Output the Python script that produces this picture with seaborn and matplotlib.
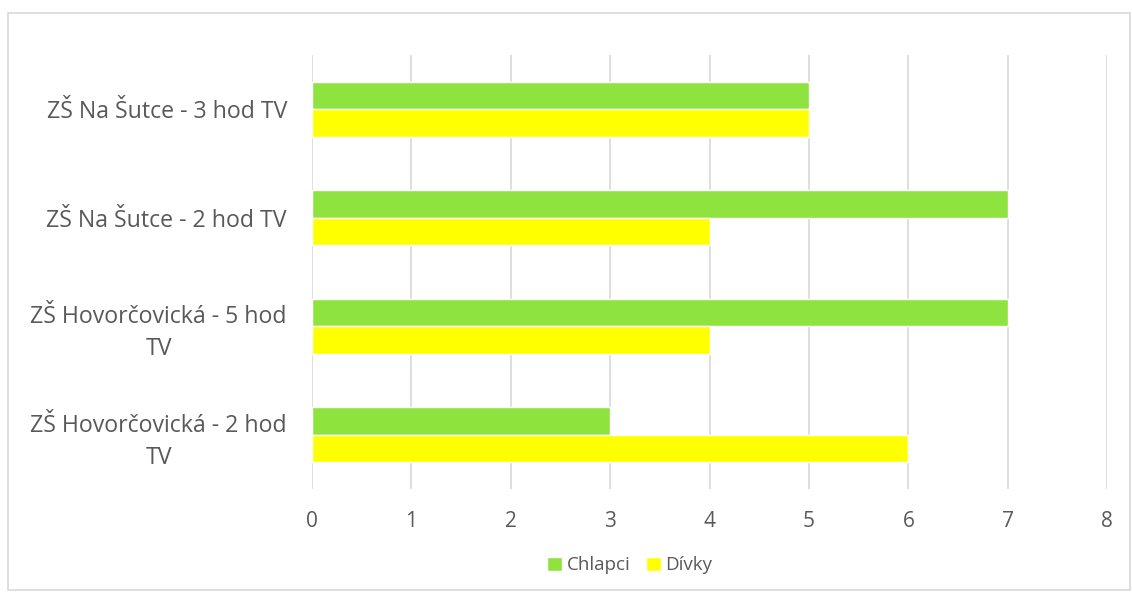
import pandas as pd
import matplotlib.pyplot as plt
import seaborn as sns
from matplotlib.patches import Rectangle

# data
categories = ["ZŠ Na Šutce - 3 hod TV", "ZŠ Na Šutce - 2 hod TV",
              "ZŠ Hovorčovická - 5 hod\nTV", "ZŠ Hovorčovická - 2 hod\nTV"]
chlapci = [5, 7, 7, 3]
divky = [5, 4, 4, 6]
series = ["Chlapci", "Dívky"]
colors = ["#8EE33E", "#FFFF00"]

df = pd.DataFrame({
    "kategorie": categories * 2,
    "pocet": chlapci + divky,
    "pohlavi": [series[0]] * len(categories) + [series[1]] * len(categories),
})

sns.set_style("white")
plt.rcParams['font.family'] = ['Open Sans', 'DejaVu Sans']
txt = "#595959"

fig = plt.figure(figsize=(11.32, 5.92), dpi=100)
ax = fig.add_axes([0.2756, 0.174, 0.7024, 0.733])
sns.barplot(data=df, y="kategorie", x="pocet", hue="pohlavi", orient="h",
            palette=colors, width=0.51, saturation=1, ax=ax, legend=True)

ax.set_xlim(0, 8)
ax.set_xticks(range(0, 9))
ax.grid(axis="x", color="#D9D9D9", linewidth=1.2)
ax.set_axisbelow(True)
for s in ax.spines.values():
    s.set_visible(False)
ax.set_xlabel("")
ax.set_ylabel("")
ax.tick_params(axis="both", length=0, labelcolor=txt)
ax.tick_params(axis="x", pad=16, labelsize=15)
ax.tick_params(axis="y", pad=18, labelsize=16.7)
for lab in ax.get_yticklabels():
    lab.set_multialignment("center")
    lab.set_linespacing(1.45)

ax.legend(loc="center", bbox_to_anchor=(0.40, -0.176), ncol=2, frameon=False,
          fontsize=13.5, labelcolor=txt, handlelength=0.8, handleheight=0.8,
          handletextpad=0.25, columnspacing=0.8, borderaxespad=0)

fig.patches.append(Rectangle((8 / 1132, 0.003), 1 - 10 / 1132, 1 - 13 / 592 - 0.003,
                             transform=fig.transFigure, fill=False,
                             edgecolor="#D9D9D9", linewidth=1.2))

fig.savefig("out.png", dpi=100)
